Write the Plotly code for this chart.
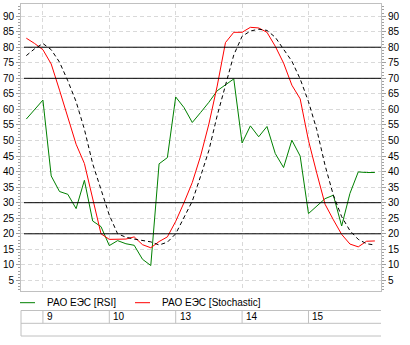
import plotly.graph_objects as go

# Trading days shown in the date strip and the bar index where each one starts
days = ["9", "10", "13", "14", "15"]
day_start = [2, 10, 18, 26, 34]

# Indicator values, one per hourly bar
rsi = [56.9, 60.0, 63.0, 38.6, 33.6, 32.7, 28.1, 37.2, 24.1, 22.3,
       16.2, 17.8, 16.8, 16.3, 11.8, 9.8, 42.5, 44.5, 64.0, 60.6,
       55.8, 59.0, 62.3, 66.0, 67.8, 69.8, 49.2, 54.7, 51.2, 54.5,
       45.8, 41.3, 50.1, 45.0, 26.5, 29.0, 31.3, 32.4, 22.5, 33.0,
       39.9, 39.7, 39.7]
stoch_k = [82.9, 81.2, 79.2, 74.6, 66.2, 57.2, 48.8, 42.6, 31.5, 20.0,
           18.2, 18.2, 18.3, 19.0, 16.5, 15.5, 17.5, 19.0, 24.0, 30.0,
           36.5, 45.0, 55.3, 67.5, 81.5, 84.8, 84.8, 86.4, 86.2, 84.8,
           80.3, 74.9, 67.8, 63.4, 50.0, 39.5, 29.5, 24.5, 19.8, 16.7,
           15.8, 17.6, 17.7]
stoch_d = [77.3, 79.5, 81.2, 79.2, 75.2, 69.2, 62.5, 53.6, 42.5, 34.5,
           26.0, 20.0, 18.9, 18.3, 17.9, 17.4, 16.4, 17.3, 20.0, 25.0,
           30.5, 38.5, 46.8, 58.0, 68.0, 77.5, 83.5, 85.2, 85.8, 85.4,
           83.2, 79.5, 75.5, 69.8, 62.5, 53.5, 42.0, 32.4, 25.5, 21.0,
           18.2, 16.8, 16.4]

series_names = ["РАО ЕЭС [RSI]", "РАО ЕЭС [Stochastic]"]
series_colors = ["#008000", "#ff0000"]
levels = [20, 30, 70, 80]
y_ticks = list(range(5, 95, 5))

W, H = 410, 345
L, R, T, B = 21, 29, 4, 54
PW, PH = W - L - R, H - T - B
FONT = dict(family="Liberation Sans, Arial, sans-serif", size=10, color="#000000")
GRID = "#d9d9d9"
FRAME = "#c0c0c0"
TICKC = "#a0a0a0"

x = list(range(len(rsi)))


def px_x(p):
    return (p - L) / PW


def px_y(p):
    return (T + PH - p) / PH


fig = go.Figure()
fig.add_trace(go.Scatter(x=x, y=rsi, mode="lines", name=series_names[0],
                         line=dict(color=series_colors[0], width=1),
                         showlegend=False, hoverinfo="skip"))
fig.add_trace(go.Scatter(x=x, y=stoch_k, mode="lines", name=series_names[1],
                         line=dict(color=series_colors[1], width=1),
                         showlegend=False, hoverinfo="skip"))
fig.add_trace(go.Scatter(x=x, y=stoch_d, mode="lines", yaxis="y2",
                         line=dict(color="#000000", width=1, dash="4px,3px"),
                         showlegend=False, hoverinfo="skip"))

yr = [1.6, 93.9]
yaxis_common = dict(
    range=yr, tickvals=y_ticks, ticks="outside", ticklen=4, tickwidth=1,
    tickcolor=TICKC, tickfont=FONT, zeroline=False,
    minor=dict(dtick=1, tick0=0, ticks="outside", ticklen=2, tickcolor=TICKC, showgrid=False),
)

fig.update_layout(
    width=W, height=H, autosize=False,
    margin=dict(l=L, r=R, t=T, b=B, pad=0),
    paper_bgcolor="#ffffff", plot_bgcolor="#ffffff",
    font=FONT,
    xaxis=dict(range=[-0.64, 42.74], tickvals=day_start, showticklabels=False,
               ticks="", showgrid=True, gridcolor=GRID, griddash="4px,3px", gridwidth=1,
               zeroline=False, showline=True, mirror=True, linecolor=FRAME, linewidth=1),
    yaxis=dict(**yaxis_common, side="left", showgrid=True, gridcolor=GRID,
               griddash="4px,3px", gridwidth=1, showline=True, mirror=True,
               linecolor=FRAME, linewidth=1),
    yaxis2=dict(**yaxis_common, side="right", overlaying="y", showgrid=False,
                showline=False),
)

# Overbought / oversold reference levels
for lv in levels:
    fig.add_shape(type="line", xref="paper", yref="y", x0=3 / PW, x1=1, y0=lv, y1=lv,
                  line=dict(color="#000000", width=1), layer="above")

# Legend row
ly = px_y(302.7)
for name, color, lx0, tx in zip(series_names, series_colors, [20, 135], [45, 160]):
    fig.add_shape(type="line", xref="paper", yref="paper", x0=px_x(lx0), x1=px_x(lx0 + 15),
                  y0=ly, y1=ly, line=dict(color=color, width=1))
    fig.add_annotation(xref="paper", yref="paper", x=px_x(tx), y=ly, text=name,
                       showarrow=False, xanchor="left", yanchor="middle", font=FONT)

# Date strip beneath the legend
t_top, t_mid, t_bot = px_y(310.5), px_y(323.3), px_y(336)
for yy in (t_top, t_mid, t_bot):
    fig.add_shape(type="line", xref="paper", yref="paper", x0=0, x1=1, y0=yy, y1=yy,
                  line=dict(color=FRAME, width=1))
fig.add_shape(type="line", xref="paper", yref="paper", x0=0, x1=0, y0=t_top, y1=t_bot,
              line=dict(color=FRAME, width=1))
for d, s in zip(days, day_start):
    fig.add_shape(type="line", xref="x", yref="paper", x0=s, x1=s, y0=t_top, y1=t_mid,
                  line=dict(color=FRAME, width=1))
    fig.add_annotation(xref="x", yref="paper", x=s, y=(t_top + t_mid) / 2, text=d,
                       showarrow=False, xanchor="left", yanchor="middle", xshift=2, font=FONT)

fig.write_html("out.html")
